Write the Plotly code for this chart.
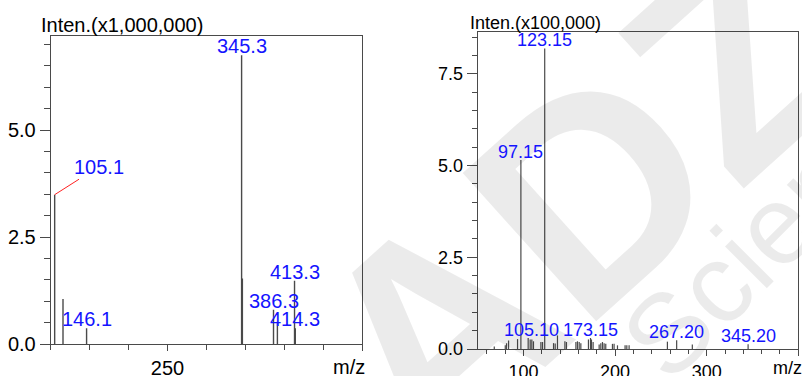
import plotly.graph_objects as go

# ---- Spectrum 1 (intensity x1,000,000) ----
ms1_mz = [105.1, 115.8, 146.1, 345.3, 346.3, 386.3, 391.3, 413.3, 414.3]
ms1_int = [3.49, 1.05, 0.37, 6.75, 1.53, 0.80, 0.52, 1.48, 0.37]
ms1_labels = [146.1, 345.3, 386.3, 413.3, 414.3]
ms1_leader_label = 105.1

# ---- Spectrum 2 (intensity x100,000) ----
ms2_mz = [68.1, 80.1, 81.5, 83.7, 93.5, 97.15, 105.1, 107.3, 109.1, 110.9,
          119.0, 120.8, 123.15, 132.8, 134.6, 137.1, 145.2, 146.9, 157.2, 158.9,
          160.8, 162.6, 170.9, 173.15, 174.2, 176.0, 182.6, 184.4, 186.2, 188.0,
          189.8, 197.1, 198.9, 202.6, 210.9, 212.8, 215.3, 257.1, 267.2, 284.3,
          345.2]
ms2_int = [0.07, 0.10, 0.16, 0.23, 0.27, 5.15, 0.30, 0.26, 0.26, 0.21,
           0.19, 0.19, 8.19, 0.16, 0.15, 0.37, 0.21, 0.19, 0.19, 0.21,
           0.19, 0.16, 0.26, 0.30, 0.26, 0.19, 0.12, 0.16, 0.19, 0.16,
           0.14, 0.14, 0.14, 0.10, 0.10, 0.10, 0.10, 0.20, 0.24, 0.12,
           0.13]
ms2_labels = ["97.15", "105.10", "123.15", "173.15", "267.20", "345.20"]

FONT = "Liberation Sans, Arial, sans-serif"
LINE = "#4a4a4a"
BLUE = "#1414ff"
MARK = "rgba(0,0,0,0.08)"


def sticks(mz, inten):
    xs, ys = [], []
    for m, h in zip(mz, inten):
        xs += [m, m, None]
        ys += [0, h, None]
    return xs, ys


fig = go.Figure()

x1, y1 = sticks(ms1_mz, ms1_int)
fig.add_trace(go.Scatter(x=x1, y=y1, mode="lines", line=dict(color=LINE, width=1.4),
                         xaxis="x", yaxis="y", hoverinfo="skip", showlegend=False))
x2, y2 = sticks(ms2_mz, ms2_int)
fig.add_trace(go.Scatter(x=x2, y=y2, mode="lines", line=dict(color=LINE, width=1.2),
                         xaxis="x2", yaxis="y2", hoverinfo="skip", showlegend=False))

ann = []
# watermark
ann.append(dict(text="<b>ADZ</b>", xref="paper", yref="paper", x=580 / 802, y=1 - 200 / 376,
                xanchor="center", yanchor="middle",
                showarrow=False, textangle=-42, font=dict(family=FONT, size=290, color=MARK)))
ann.append(dict(text="Scientific", xref="paper", yref="paper", x=800 / 802, y=1 - 200 / 376,
                xanchor="center", yanchor="middle",
                showarrow=False, textangle=-45, font=dict(family=FONT, size=112, color=MARK)))

lookup1 = dict(zip(ms1_mz, ms1_int))
for m in ms1_labels:
    ann.append(dict(text=f"{m:.1f}", x=m, y=lookup1[m], xref="x", yref="y",
                    showarrow=False, yanchor="bottom", xanchor="center", yshift=-4,
                    font=dict(family=FONT, size=20, color=BLUE)))
ann.append(dict(text=f"{ms1_leader_label:.1f}", x=ms1_leader_label, y=lookup1[ms1_leader_label],
                xref="x", yref="y", showarrow=True, arrowhead=0, arrowwidth=1,
                arrowcolor="#ff2020", ax=44, ay=-28, standoff=0,
                font=dict(family=FONT, size=20, color=BLUE)))

lookup2 = dict(zip(ms2_mz, ms2_int))
for lab in ms2_labels:
    m = float(lab)
    ann.append(dict(text=lab, x=m, y=lookup2[m], xref="x2", yref="y2",
                    showarrow=False, yanchor="bottom", xanchor="center", yshift=-4,
                    xshift=3 if lab == "105.10" else 0,
                    font=dict(family=FONT, size=18, color=BLUE)))

# axis captions
ann.append(dict(text="Inten.(x1,000,000)", xref="paper", yref="paper", x=39 / 802, y=1 - 25 / 376,
                xanchor="left", yanchor="middle", showarrow=False,
                font=dict(family=FONT, size=20, color="black")))
ann.append(dict(text="Inten.(x100,000)", xref="paper", yref="paper", x=468 / 802, y=1 - 23 / 376,
                xanchor="left", yanchor="middle", showarrow=False,
                font=dict(family=FONT, size=18, color="black")))
ann.append(dict(text="m/z", xref="paper", yref="paper", x=349 / 802, y=1 - 367 / 376,
                xanchor="center", yanchor="middle", showarrow=False,
                font=dict(family=FONT, size=20, color="black")))
ann.append(dict(text="m/z", xref="paper", yref="paper", x=787 / 802, y=1 - 368 / 376,
                xanchor="center", yanchor="middle", showarrow=False,
                font=dict(family=FONT, size=18, color="black")))

axis_common = dict(showline=True, linecolor=LINE, linewidth=1, mirror=True,
                   showgrid=False, zeroline=False, ticks="outside", tickcolor=LINE,
                   tickwidth=1, automargin=False)

fig.update_layout(
    width=802, height=376, autosize=False,
    margin=dict(l=0, r=0, t=0, b=0, pad=0),
    paper_bgcolor="white", plot_bgcolor="white",
    annotations=ann,
    xaxis=dict(domain=[50.7 / 802, 362 / 802], range=[100, 500], anchor="y",
               tickvals=[250, 500], ticktext=["250", ""], ticklen=6,
               tickfont=dict(family=FONT, size=20, color="black"),
               minor=dict(dtick=50, tick0=100, ticklen=5, tickcolor=LINE, ticks="outside"),
               **axis_common),
    yaxis=dict(domain=[(376 - 344) / 376, (376 - 36) / 376], range=[0, 7.2], anchor="x",
               tickvals=[0, 2.5, 5.0], ticktext=["0.0", "2.5", "5.0"], ticklen=10,
               tickfont=dict(family=FONT, size=20, color="black"),
               minor=dict(dtick=0.5, tick0=0, ticklen=6, tickcolor=LINE, ticks="outside"),
               **axis_common),
    xaxis2=dict(domain=[477.7 / 802, 798.3 / 802], range=[50, 400], anchor="y2",
                tickvals=[100, 200, 300, 400], ticktext=["100", "200", "300", ""], ticklen=6,
                tickfont=dict(family=FONT, size=18, color="black"),
                minor=dict(dtick=20, tick0=0, ticklen=4, tickcolor=LINE, ticks="outside"),
                **axis_common),
    yaxis2=dict(domain=[(376 - 349) / 376, (376 - 32.3) / 376], range=[0, 8.63], anchor="x2",
                tickvals=[0, 2.5, 5.0, 7.5], ticktext=["0.0", "2.5", "5.0", "7.5"], ticklen=10,
                tickfont=dict(family=FONT, size=18, color="black"),
                minor=dict(dtick=0.5, tick0=0, ticklen=5, tickcolor=LINE, ticks="outside"),
                **axis_common),
)

fig.write_html("out.html")
